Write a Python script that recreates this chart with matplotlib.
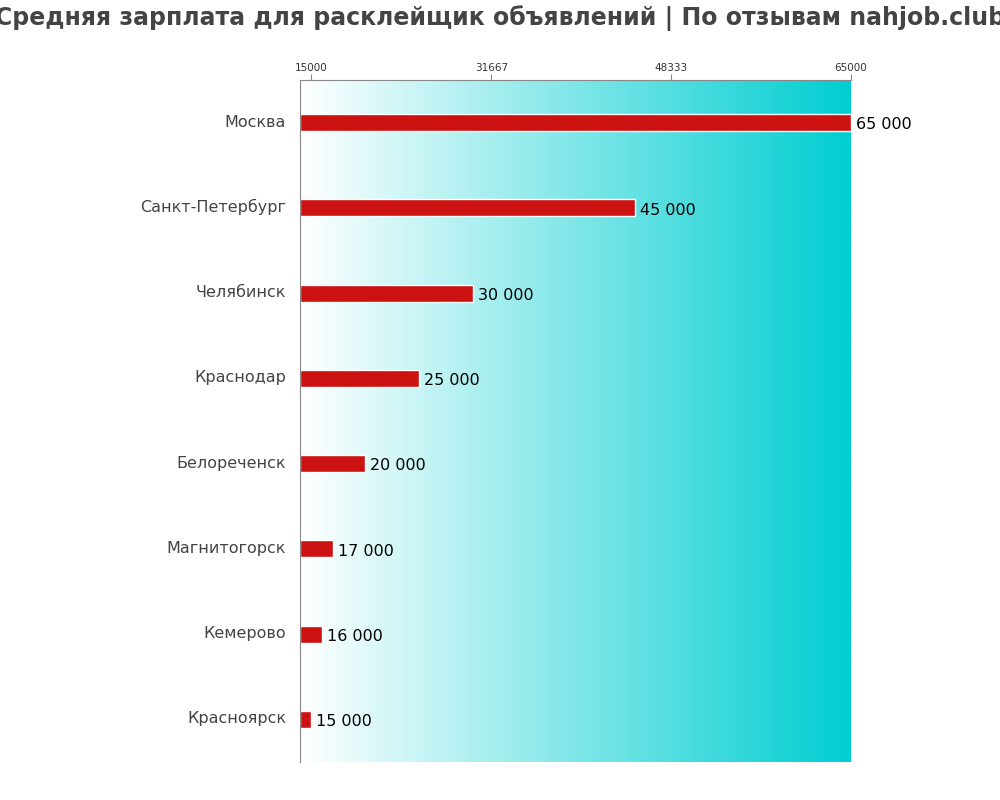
import numpy as np
import matplotlib.pyplot as plt
import matplotlib.transforms as mtransforms
from matplotlib.colors import LinearSegmentedColormap

# ---data--- #
cities = ['Москва', 'Санкт-Петербург', 'Челябинск', 'Краснодар',
          'Белореченск', 'Магнитогорск', 'Кемерово', 'Красноярск']
salaries = [65000, 45000, 30000, 25000, 20000, 17000, 16000, 15000]
tick_values = [15000, 31667, 48333, 65000]
title = 'Средняя зарплата для расклейщик объявлений | По отзывам nahjob.club'

x_min, x_max = 13950, 65000

fig = plt.figure(figsize=(10, 8), dpi=100)
ax = fig.add_axes([0.3, 0.0475, 0.551, 0.8525])

# gradient background
cmap = LinearSegmentedColormap.from_list('bg', ['#ffffff', '#00ced1'])
grad = np.linspace(0, 1, 256).reshape(1, -1)
ax.imshow(grad, cmap=cmap, aspect='auto', extent=[x_min, x_max, len(cities) - 0.5, -0.5],
          zorder=0)

y = np.arange(len(cities))
ax.barh(y, [s - x_min for s in salaries], left=x_min, height=0.2,
        color='#cc1111', edgecolor='white', linewidth=1, zorder=2)

for yi, s in zip(y, salaries):
    ax.text(s + 450, yi + 0.025, f'{s:,}'.replace(',', ' '), va='center', ha='left',
            fontsize=11.5, color='black', zorder=3)

ax.set_xlim(x_min, x_max)
ax.set_ylim(len(cities) - 0.5, -0.5)
ax.set_yticks(y)
ax.set_yticklabels(cities, fontsize=11.5, color='#444444')
ax.tick_params(axis='y', length=0, pad=10)
# nudge labels up a little
shift = mtransforms.ScaledTranslation(0, 2 / 100, fig.dpi_scale_trans)
for lbl in ax.get_yticklabels():
    lbl.set_transform(lbl.get_transform() + shift)

ax.xaxis.tick_top()
ax.set_xticks(tick_values)
ax.set_xticklabels([str(t) for t in tick_values], fontsize=7.5, color='#333333')
ax.tick_params(axis='x', length=4, color='#888888', pad=1)

for side in ['right', 'bottom']:
    ax.spines[side].set_visible(False)
for side in ['left', 'top']:
    ax.spines[side].set_color('#888888')

fig.text(0.5, 0.978, title, ha='center', va='center', fontsize=17,
         fontweight='bold', color='#444444')

fig.savefig('out.png', dpi=100)
